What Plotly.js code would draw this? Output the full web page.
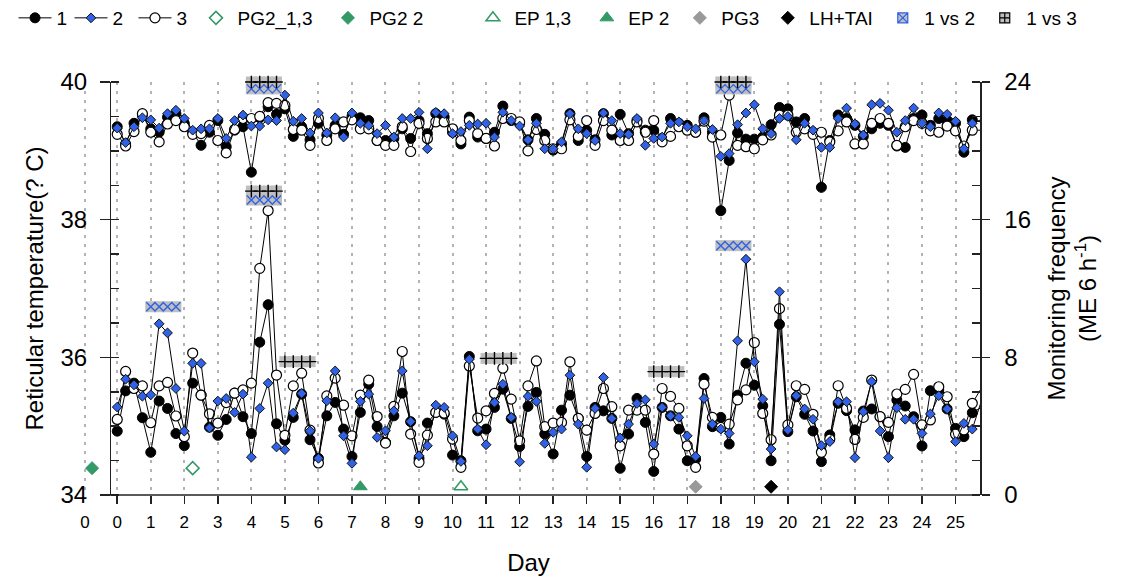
<!DOCTYPE html>
<html>
<head>
<meta charset="utf-8">
<script src="https://cdn.plot.ly/plotly-3.0.1.min.js"></script>
<style>html,body{margin:0;padding:0;background:#fff;}#chart{width:1128px;height:580px;}</style>
</head>
<body>
<div id="chart"></div>
<script>
// ---- time base (days, one sample per 6 h) ----
const days = [0,0.25,0.5,0.75,1,1.25,1.5,1.75,2,2.25,2.5,2.75,3,3.25,3.5,3.75,4,4.25,4.5,4.75,5,5.25,5.5,5.75,6,6.25,6.5,6.75,7,7.25,7.5,7.75,8,8.25,8.5,8.75,9,9.25,9.5,9.75,10,10.25,10.5,10.75,11,11.25,11.5,11.75,12,12.25,12.5,12.75,13,13.25,13.5,13.75,14,14.25,14.5,14.75,15,15.25,15.5,15.75,16,16.25,16.5,16.75,17,17.25,17.5,17.75,18,18.25,18.5,18.75,19,19.25,19.5,19.75,20,20.25,20.5,20.75,21,21.25,21.5,21.75,22,22.25,22.5,22.75,23,23.25,23.5,23.75,24,24.25,24.5,24.75,25,25.25,25.5,25.75];

// ---- tick labels ----
const dayTicks = [0,1,2,3,4,5,6,7,8,9,10,11,12,13,14,15,16,17,18,19,20,21,22,23,24,25];
const dayLabels = ['0','1','2','3','4','5','6','7','8','9','10','11','12','13','14','15','16','17','18','19','20','21','22','23','24','25'];
const preTicks = [-0.96];
const preLabels = ['0'];

// ---- reticular temperature (°C), groups 1, 2, 3 ----
const temp1 = [39.35,39.10,39.40,39.52, 39.32,39.27,39.49,39.54, 39.40,39.27,39.08,39.27, 39.44,39.06,39.30,39.35, 38.69,39.48,39.64,39.53, 39.61,39.21,39.35,39.16, 39.40,39.23,39.37,39.24, 39.50,39.48,39.44,39.15, 39.15,39.18,39.32,39.18, 39.44,39.25,39.54,39.49, 39.27,39.10,39.49,39.20, 39.18,39.27,39.65,39.44, 39.40,39.16,39.47,39.24, 39.01,39.10,39.54,39.15, 39.30,39.16,39.54,39.23, 39.53,39.25,39.44,39.30, 39.30,39.18,39.47,39.40, 39.37,39.27,39.48,39.27, 38.13,38.86,39.26,39.17, 39.17,39.20,39.38,39.63, 39.61,39.42,39.47,39.27, 38.47,39.15,39.52,39.47, 39.37,39.21,39.32,39.40, 39.37,39.07,39.05,39.47, 39.52,39.37,39.47,39.44, 39.40,38.98,39.45,39.42];
const temp2 = [39.33,39.12,39.35,39.48, 39.45,39.33,39.54,39.59, 39.47,39.30,39.32,39.32, 39.47,39.18,39.44,39.52, 39.36,39.36,39.45,39.44, 39.81,39.43,39.47,39.26, 39.55,39.26,39.48,39.20, 39.55,39.40,39.37,39.25, 39.37,39.20,39.47,39.47, 39.56,39.03,39.56,39.54, 39.25,39.28,39.37,39.39, 39.40,39.20,39.56,39.44, 39.36,39.16,39.40,39.03, 39.03,39.13,39.54,39.32, 39.25,39.15,39.55,39.44, 39.25,39.24,39.47,39.08, 39.18,39.20,39.40,39.42, 39.35,39.32,39.44,39.31, 38.92,38.96,39.38,39.55, 39.67,39.32,39.25,39.47, 39.50,39.16,39.40,39.30, 39.05,39.05,39.47,39.62, 39.39,39.23,39.67,39.69, 39.59,39.27,39.44,39.62, 39.40,39.35,39.55,39.53, 39.43,39.03,39.40,39.45];
const temp3 = [39.24,39.07,39.28,39.54, 39.27,39.13,39.39,39.44, 39.35,39.24,39.25,39.37, 39.15,38.97,39.31,39.47, 39.47,39.50,39.70,39.69, 39.66,39.31,39.30,39.08, 39.47,39.15,39.32,39.42, 39.45,39.32,39.32,39.15, 39.08,39.08,39.35,38.99, 39.40,39.18,39.42,39.42, 39.32,39.15,39.44,39.25, 39.18,39.07,39.47,39.47, 39.42,39.00,39.31,39.15, 39.03,39.03,39.45,39.21, 39.44,39.08,39.44,39.30, 39.15,39.15,39.42,39.27, 39.44,39.13,39.21,39.35, 39.30,39.27,39.43,39.20, 39.23,39.81,39.08,39.06, 39.03,39.16,39.23,39.52, 39.52,39.27,39.32,39.24, 39.27,39.13,39.29,39.42, 39.10,39.10,39.40,39.47, 39.40,39.08,39.35,39.44, 39.40,39.29,39.27,39.36, 39.29,39.07,39.30,39.30];

// ---- monitoring frequency (ME per 6 h), groups 1, 2, 3 ----
const freq1 = [3.71,6.05,6.50,4.49, 2.48,5.46,5.03,3.57, 2.87,6.50,5.81,3.94, 3.47,4.39,5.92,4.55, 3.57,8.88,11.06,4.14, 3.18,4.51,5.86,3.21, 2.13,4.60,5.38,3.83, 2.24,4.80,6.44,3.98, 3.06,4.60,5.92,4.26, 2.13,4.18,4.80,4.70, 2.32,1.99,8.05,3.73, 3.83,5.09,6.15,4.45, 2.82,5.15,5.96,3.54, 2.38,4.93,5.80,4.45, 2.24,5.09,4.89,4.45, 1.55,3.54,5.61,4.22, 1.37,5.09,4.60,3.83, 1.99,2.09,6.77,3.97, 4.51,2.96,5.80,7.66, 6.38,5.18,1.99,9.92, 3.68,5.71,4.69,3.72, 1.94,3.49,5.33,4.90, 3.78,4.88,5.00,4.55, 3.39,5.52,5.17,4.55, 2.85,6.06,6.10,5.00, 3.87,3.39,4.78,5.07];
const freq2 = [5.11,6.73,6.40,5.74, 5.82,9.95,9.42,6.19, 3.71,7.65,7.65,3.90, 5.46,5.61,4.80,5.86, 2.20,5.03,6.50,2.79, 2.63,4.76,5.90,3.73, 2.13,5.47,7.21,3.44, 1.84,5.44,5.86,3.35, 3.73,4.89,7.21,4.27, 2.28,2.86,5.22,5.09, 3.44,1.95,7.89,3.83, 2.92,5.38,6.44,4.51, 1.93,5.73,5.44,3.00, 3.64,3.83,6.96,4.12, 1.61,5.03,6.83,4.45, 3.31,4.12,5.32,5.53, 2.96,5.09,4.60,4.51, 3.44,2.24,5.61,4.12, 3.83,3.58,8.96,13.70, 7.74,5.57,2.67,11.81, 3.78,5.77,5.00,4.40, 2.87,3.10,5.42,5.42, 2.17,4.84,6.59,3.72, 2.17,5.07,4.40,4.40, 3.58,4.71,5.77,5.00, 3.10,4.16,3.83,5.33];
const freq3 = [4.39,7.18,6.19,6.34, 4.20,6.34,6.54,4.59, 3.39,8.25,5.80,4.72, 4.18,5.37,5.92,6.11, 6.50,13.17,16.53,6.97, 3.47,6.34,7.08,3.77, 1.86,5.76,6.79,5.22, 3.44,5.80,6.67,4.56, 3.02,5.15,8.34,3.54, 1.90,3.48,4.80,4.76, 3.25,1.61,7.50,4.47, 4.89,5.90,7.37,5.57, 3.15,6.34,7.79,3.97, 4.18,4.22,7.74,4.45, 3.77,4.74,6.19,5.13, 2.86,4.93,4.93,4.93, 2.38,6.19,5.73,5.03, 2.86,1.61,6.44,4.51, 3.93,4.12,5.53,6.11, 8.86,4.74,3.21,10.83, 4.07,6.35,6.14,4.69, 2.48,3.25,6.35,5.04, 3.23,4.51,6.68,4.55, 4.22,5.87,6.14,7.01, 4.07,4.36,6.29,5.71, 3.53,3.78,5.33,6.14];

// ---- events (day, temperature-axis level) ----
const pg2_13X = [2.25],  pg2_13Y = [34.39];
const pg2_2X  = [-0.75], pg2_2Y  = [34.39];
const ep13X   = [10.25], ep13Y   = [34.12];
const ep2X    = [7.25],  ep2Y    = [34.12];
const pg3X    = [17.25], pg3Y    = [34.12];
const lhX     = [19.5],  lhY     = [34.12];

// ---- significance marks ----
// upper (temperature axis)
const sig12TX = [4,4.25,4.5,4.75,18,18.25,18.5,18.75];
const sig12TY = [39.9,39.9,39.9,39.9,39.9,39.9,39.9,39.9];
const sig13TX = [4,4.25,4.5,4.75,18,18.25,18.5,18.75];
const sig13TY = [40,40,40,40,40,40,40,40];
// lower (frequency axis)
const sig12FX = [1,1.25,1.5,1.75,4,4.25,4.5,4.75,18,18.25,18.5,18.75];
const sig12FY = [10.94,10.94,10.94,10.94,17.14,17.14,17.14,17.14,14.49,14.49,14.49,14.49];
const sig13FX = [4,4.25,4.5,4.75,5,5.25,5.5,5.75,11,11.25,11.5,11.75,16,16.25,16.5,16.75];
const sig13FY = [17.66,17.66,17.66,17.66,7.75,7.75,7.75,7.75,7.94,7.94,7.94,7.94,7.17,7.17,7.17,7.17];

// ---- legend entries (names, in order) ----
const legendNames = ['1','2','3','PG2_1,3','PG2 2','EP 1,3','EP 2','PG3','LH+TAI','1 vs 2','1 vs 3'];

// ---- styles ----
const FONT = 'Liberation Sans, Arial, Helvetica, sans-serif';
const BLUE = '#2f62e6';
const GREEN = '#339966';
const GRAYBOX = '#bfbfbf';
const GRID = '#b3b3b3';
const legendSymbolPx = [35, 91, 155, 216, 348, 493, 607, 700, 788, 903, 1005];
const legendId = i => (i === 0 ? 'legend' : 'legend' + (i + 1));
const legIdx = name => legendNames.indexOf(name);

const groupStyle = {
  '1': {symbol:'circle', size:10, color:'#000', lc:'#000', lw:1},
  '2': {symbol:'diamond', size:7.5, color:BLUE, lc:'#111', lw:1},
  '3': {symbol:'circle', size:10, color:'#fff', lc:'#000', lw:1.2}
};

function line(name, y, yaxis, showleg) {
  const s = groupStyle[name];
  return {
    type:'scatter', mode:'lines+markers', x:days, y:y, xaxis:'x', yaxis:yaxis,
    name:name, legendgroup:'g'+name, showlegend:showleg, legend:legendId(legIdx(name)),
    line:{color:'#000', width:1},
    marker:{symbol:s.symbol, size:s.size, color:s.color, line:{color:s.lc, width:s.lw}},
    cliponaxis:false, hoverinfo:'skip'
  };
}

function pts(name, x, y, symbol, color, lineColor, lw, size, xaxis) {
  return {
    type:'scatter', mode:'markers', x:x, y:y, xaxis:xaxis||'x', yaxis:'y', name:name,
    legend:legendId(legIdx(name)), showlegend:true, cliponaxis:false, hoverinfo:'skip',
    marker:{symbol:symbol, size:size, color:color, line:{color:lineColor, width:lw}}
  };
}

function box(x, y, yaxis) {
  return {type:'scatter', mode:'markers', x:x, y:y, xaxis:'x', yaxis:yaxis, showlegend:false,
    cliponaxis:false, hoverinfo:'skip', marker:{symbol:'square', size:11, color:GRAYBOX, line:{width:0}}};
}
function sym(x, y, yaxis, symbol, color) {
  return {type:'scatter', mode:'markers', x:x, y:y, xaxis:'x', yaxis:yaxis, showlegend:false,
    cliponaxis:false, hoverinfo:'skip', marker:{symbol:symbol, size:9, color:color, line:{color:color, width:1.4}}};
}

const traces = [
  // temperature
  line('1', temp1, 'y', true),
  line('3', temp3, 'y', true),
  line('2', temp2, 'y', true),
  // events
  pts('PG2_1,3', pg2_13X, pg2_13Y, 'diamond-open', GREEN, GREEN, 1.5, 10),
  pts('PG2 2', pg2_2X, pg2_2Y, 'diamond', GREEN, GREEN, 1, 10, 'x2'),
  pts('EP 1,3', ep13X, ep13Y, 'triangle-up-open', GREEN, GREEN, 1.5, 12),
  pts('EP 2', ep2X, ep2Y, 'triangle-up', GREEN, GREEN, 1, 12),
  pts('PG3', pg3X, pg3Y, 'diamond', '#999999', '#999999', 1, 10),
  pts('LH+TAI', lhX, lhY, 'diamond', '#000000', '#000000', 1, 10),
  // significance (upper)
  box(sig12TX, sig12TY, 'y'),
  box(sig13TX, sig13TY, 'y'),
  sym(sig12TX, sig12TY, 'y', 'x-thin-open', BLUE),
  sym(sig13TX, sig13TY, 'y', 'cross-thin-open', '#000'),
  // frequency
  line('1', freq1, 'y2', false),
  line('3', freq3, 'y2', false),
  line('2', freq2, 'y2', false),
  // significance (lower)
  box(sig12FX, sig12FY, 'y2'),
  box(sig13FX, sig13FY, 'y2'),
  sym(sig12FX, sig12FY, 'y2', 'x-thin-open', BLUE),
  sym(sig13FX, sig13FY, 'y2', 'cross-thin-open', '#000'),
  // legend entries for significance
  {type:'scatter', mode:'markers', x:[null], y:[null], name:'1 vs 2', legend:legendId(legIdx('1 vs 2')), showlegend:true,
   marker:{symbol:'square-x', size:10, color:GRAYBOX, line:{color:BLUE, width:1.2}}},
  {type:'scatter', mode:'markers', x:[null], y:[null], name:'1 vs 3', legend:legendId(legIdx('1 vs 3')), showlegend:true,
   marker:{symbol:'square-cross', size:10, color:GRAYBOX, line:{color:'#000', width:1.2}}}
];

const ML = 77, PW = 903.25, ITEMW = 33;
const yPos = 0.0365;
const layout = {
  width:1128, height:580,
  margin:{l:ML, r:148, t:82, b:85, pad:0, autoexpand:false},
  paper_bgcolor:'#fff', plot_bgcolor:'#fff',
  font:{family:FONT, size:17, color:'#000'},
  showlegend:true,
  xaxis:{domain:[0,1], range:[-1.2,25.73], anchor:'y', tickmode:'array', tickvals:dayTicks, ticktext:dayLabels,
         ticks:'outside', ticklen:8, tickwidth:1.5, tickcolor:'#222', showline:false, zeroline:false,
         showgrid:true, gridcolor:GRID, gridwidth:2, griddash:'3px,6px', ticklabelstandoff:4,
         tickfont:{family:FONT, size:17}, title:{text:'Day', font:{family:FONT, size:24}, standoff:22}},
  xaxis2:{overlaying:'x', range:[-1.2,25.73], anchor:'y', side:'bottom', tickmode:'array', tickvals:preTicks, ticktext:preLabels,
          ticks:'outside', ticklen:8, tickcolor:'rgba(0,0,0,0)', showline:false, zeroline:false, ticklabelstandoff:4,
          showgrid:true, gridcolor:GRID, gridwidth:2, griddash:'3px,6px', tickfont:{family:FONT, size:17}},
  yaxis:{range:[34,40], anchor:'free', position:yPos, tickmode:'linear', tick0:34, dtick:2,
         ticks:'outside', ticklen:10, tickwidth:1.5, tickcolor:'#222', showline:true, linewidth:1.5, linecolor:'#222',
         showgrid:false, zeroline:false, tickfont:{family:FONT, size:24}, ticklabelstandoff:8,
         minor:{dtick:0.5, ticks:'inside', ticklen:8, tickwidth:1.5, tickcolor:'#222', showgrid:false},
         title:{text:'Reticular temperature(? C)', font:{family:FONT, size:24}, standoff:8}},
  yaxis2:{range:[0,24], overlaying:'y', side:'right', anchor:'x', tickmode:'linear', tick0:0, dtick:8,
          ticks:'outside', ticklen:8, tickwidth:1.5, tickcolor:'#222', showline:true, linewidth:1.5, linecolor:'#222',
          showgrid:false, zeroline:false, tickfont:{family:FONT, size:24}, ticklabelstandoff:10,
          minor:{dtick:2, ticks:'inside', ticklen:8, tickwidth:1.5, tickcolor:'#222', showgrid:false},
          title:{text:'Monitoring frequency<br>(ME 6 h<sup>-1</sup>)', font:{family:FONT, size:24}, standoff:18}},
  shapes:[{type:'line', xref:'paper', yref:'paper', x0:yPos, x1:1, y0:0, y1:0, line:{color:'#222', width:1.5}, layer:'above'}]
};
// one legend box per entry, placed along the top row
legendNames.forEach((n, i) => {
  layout[legendId(i)] = {
    orientation:'h', x:(legendSymbolPx[i] - (ITEMW / 2 + 5) - ML) / PW, xanchor:'left',
    y:1 + (82 - 18) / 413, yanchor:'middle', itemwidth:ITEMW,
    font:{family:FONT, size:19, color:'#000'}, bgcolor:'rgba(0,0,0,0)', borderwidth:0,
    itemclick:false, itemdoubleclick:false
  };
});

Plotly.newPlot('chart', traces, layout, {displayModeBar:false, staticPlot:true});
</script>
</body>
</html>
